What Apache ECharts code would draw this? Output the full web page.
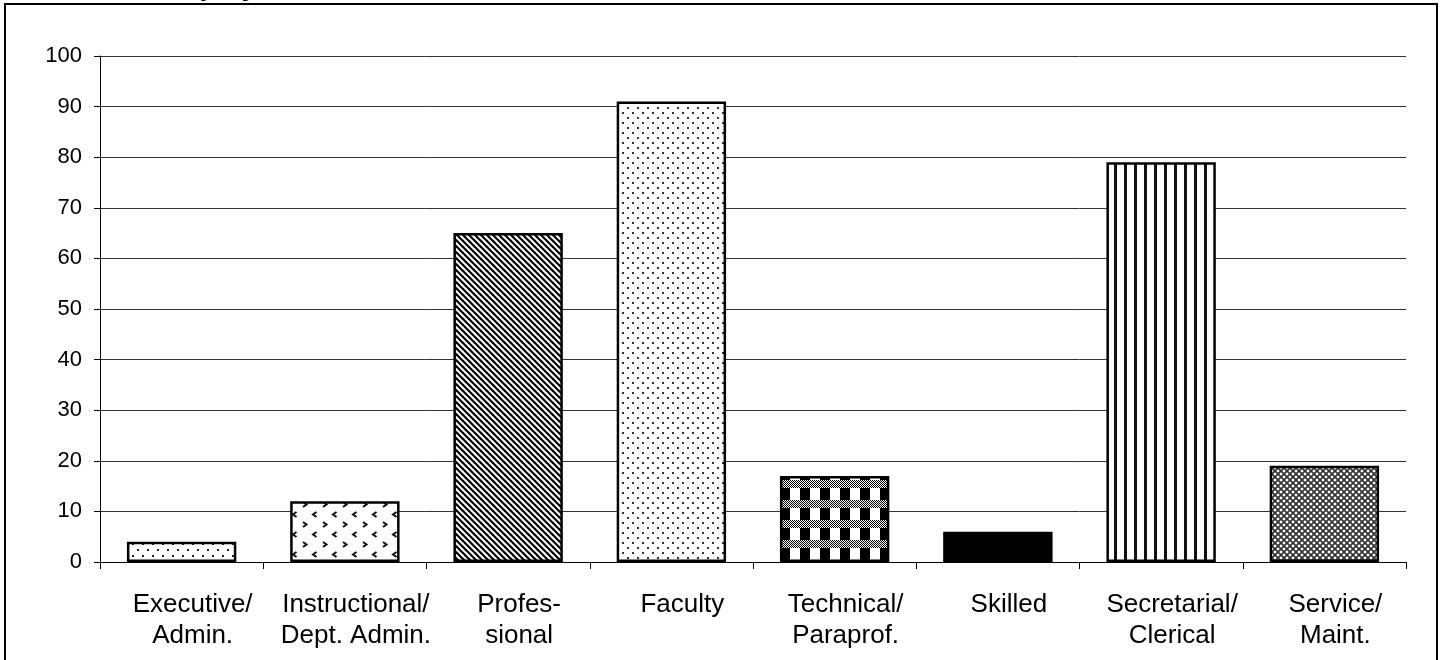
<!DOCTYPE html>
<html>
<head>
<meta charset="utf-8">
<script src="https://cdn.jsdelivr.net/npm/echarts@6/dist/echarts.min.js"></script>
<style>
html,body{margin:0;padding:0;background:#fff;overflow:hidden;}
#chart{position:absolute;left:0;top:0;width:1444px;height:660px;}
#frame{position:absolute;left:4px;top:3px;width:1430px;height:700px;border:2px solid #000;pointer-events:none;}
</style>
</head>
<body>
<div id="chart"></div>
<div id="frame"></div>
<script>
// ---- data ----
var titleText = "Employees";
var categories = ["Executive/\nAdmin.", "Instructional/\nDept. Admin.", "Profes-\nsional", "Faculty",
                  "Technical/\nParaprof.", "Skilled", "Secretarial/\nClerical", "Service/\nMaint."];
var values = [4, 12, 65, 91, 17, 6, 79, 19];
var yTicks = { min: 0, max: 100, interval: 10 };

// ---- fill patterns (styling only) ----
function tile(w, h, draw) {
  var c = document.createElement('canvas');
  c.width = w; c.height = h;
  var g = c.getContext('2d');
  g.fillStyle = '#fff'; g.fillRect(0, 0, w, h);
  draw(g, w, h);
  return { image: c, repeat: 'repeat' };
}
var patterns = [
  // Executive: sparse staggered dots
  tile(10, 12, function (g) {
    g.fillStyle = '#222';
    g.fillRect(2, 3, 2, 2); g.fillRect(7, 9, 2, 2);
  }),
  // Instructional: > and < chevrons
  tile(20, 20, function (g) {
    g.strokeStyle = '#111'; g.lineWidth = 2;
    g.beginPath(); g.moveTo(3, 2); g.lineTo(6.5, 4.5); g.lineTo(3, 7); g.stroke();
    g.beginPath(); g.moveTo(16.5, 12); g.lineTo(13, 14.5); g.lineTo(16.5, 17); g.stroke();
  }),
  // Professional: downward diagonal
  tile(6, 6, function (g, w, h) {
    g.strokeStyle = '#000'; g.lineWidth = 2.2;
    for (var k = -1; k <= 1; k++) {
      g.beginPath(); g.moveTo(k * w - 1, -1); g.lineTo(k * w + w + 1, h + 1); g.stroke();
    }
  }),
  // Faculty: light dots
  tile(10, 10, function (g) {
    g.fillStyle = '#333';
    g.fillRect(2, 2, 2, 2); g.fillRect(7, 7, 2, 2);
  }),
  // Technical: plaid
  tile(20, 20, function (g) {
    g.fillStyle = '#000';
    for (var y = 0; y < 8; y++) for (var x = 0; x < 20; x++) if ((x + y) % 2 === 0) g.fillRect(x, y, 1, 1);
    g.fillRect(0, 8, 10, 12);
  }),
  // Skilled: solid
  '#000',
  // Secretarial: vertical lines
  tile(10, 10, function (g) {
    g.fillStyle = '#111'; g.fillRect(4, 0, 3, 10);
  }),
  // Service: lattice
  tile(6, 6, function (g, w, h) {
    g.strokeStyle = '#333'; g.lineWidth = 1.7;
    for (var k = -1; k <= 1; k++) {
      g.beginPath(); g.moveTo(k * w, 0); g.lineTo(k * w + w, h); g.stroke();
      g.beginPath(); g.moveTo(k * w + w, 0); g.lineTo(k * w, h); g.stroke();
    }
  })
];

var font = '"Liberation Sans", Arial, sans-serif';
var chart = echarts.init(document.getElementById('chart'), null, { renderer: 'canvas' });
chart.setOption({
  animation: false,
  backgroundColor: '#fff',
  title: {
    text: titleText, left: 156, top: -27, padding: 0,
    textStyle: { fontFamily: font, fontSize: 28, fontWeight: 'bold', color: '#000' }
  },
  grid: { left: 100, right: 38, top: 56, bottom: 98, containLabel: false },
  xAxis: {
    type: 'category',
    data: categories,
    axisLine: { lineStyle: { color: '#000', width: 1 } },
    axisTick: { show: true, length: 7, lineStyle: { color: '#000' } },
    axisLabel: {
      interval: 0, margin: 27, color: '#000', fontFamily: font, fontSize: 26, lineHeight: 31,
      padding: [0, 0, 0, 22]
    },
    splitLine: { show: false }
  },
  yAxis: {
    type: 'value',
    min: yTicks.min, max: yTicks.max, interval: yTicks.interval,
    axisLine: { show: true, lineStyle: { color: '#000', width: 1 } },
    axisTick: { show: true, length: 6, lineStyle: { color: '#000' } },
    axisLabel: { margin: 18, color: '#000', fontFamily: font, fontSize: 22 },
    splitLine: { show: true, lineStyle: { color: '#333', width: 1 } }
  },
  series: [{
    type: 'bar',
    barCategoryGap: '33%',
    data: values.map(function (v, i) {
      return { value: v, itemStyle: { color: patterns[i] } };
    }),
    itemStyle: { borderColor: '#000', borderWidth: 2.5 }
  }]
});
</script>
</body>
</html>
